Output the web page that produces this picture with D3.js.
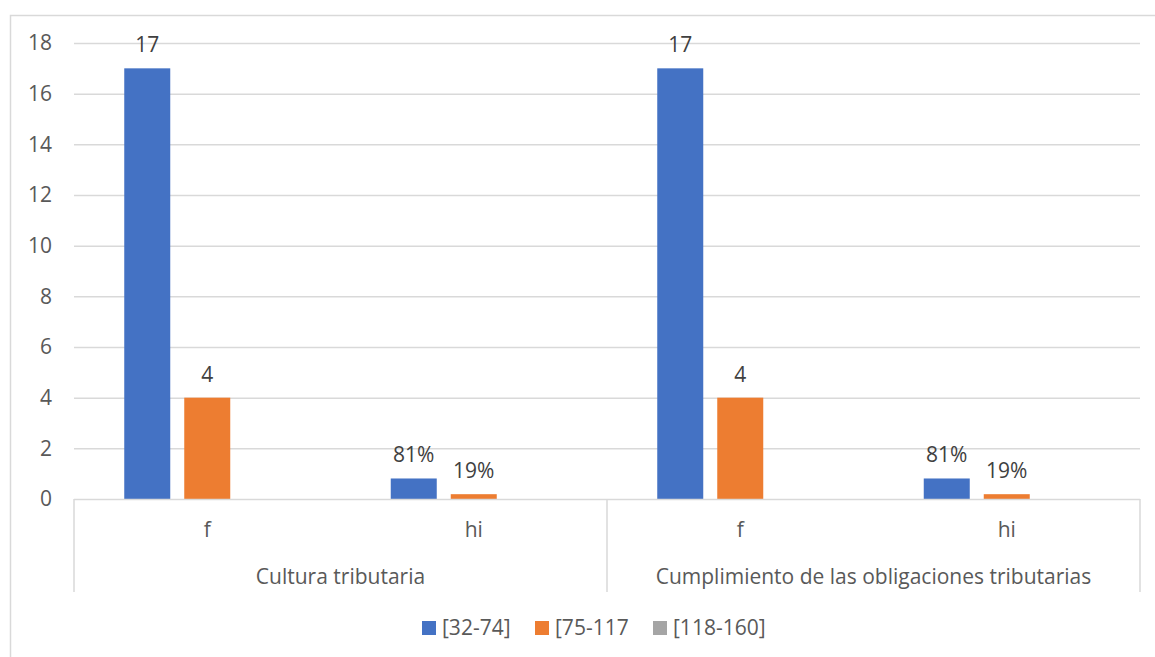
<!DOCTYPE html>
<html>
<head>
<meta charset="utf-8">
<script src="https://cdn.jsdelivr.net/npm/d3@7"></script>
<style>
  html, body { margin: 0; padding: 0; background: #fff; }
  svg { display: block; font-family: "Open Sans", sans-serif; }
</style>
</head>
<body>
<svg id="chart" width="1155" height="657"></svg>
<script>
// Groups on the outer axis and measures on the inner axis
const groups = ["Cultura tributaria", "Cumplimiento de las obligaciones tributarias"];
const measures = ["f", "hi"];
const seriesNames = ["[32-74]", "[75-117", "[118-160]"];
const seriesColors = ["#4472C4", "#ED7D31", "#A5A5A5"];

// Values per series, in order: group1 f, group1 hi, group2 f, group2 hi
const range32to74 = [17, 0.81, 17, 0.81];
const range75to117 = [4, 0.19, 4, 0.19];
const range118to160 = [0, 0, 0, 0];
const yTicks = [0, 2, 4, 6, 8, 10, 12, 14, 16, 18];

const seriesValues = [range32to74, range75to117, range118to160];

const svg = d3.select("#chart");
const textColor = "#595959";
const gridColor = "#D9D9D9";
const fontSize = "21px";

// Outer chart frame
svg.append("rect")
  .attr("x", 10.5).attr("y", 15.5)
  .attr("width", 1160).attr("height", 660)
  .attr("fill", "none").attr("stroke", "#D9D9D9").attr("stroke-width", 1.5);

const plot = { left: 74, right: 1140, top: 43, bottom: 499 };

const y = d3.scaleLinear().domain([0, 18]).range([plot.bottom, plot.top]);

// One slot for each (group, measure) pair
const slots = [];
groups.forEach(g => measures.forEach(m => slots.push(g + "|" + m)));
const x0 = d3.scaleBand().domain(slots).range([plot.left, plot.right]).padding(0);
const x1 = d3.scaleBand().domain(seriesNames)
  .range([50.25, 216.25]).paddingInner(14 / 60).paddingOuter(0);

// Horizontal gridlines
svg.append("g").selectAll("line")
  .data(yTicks.filter(t => t > 0))
  .join("line")
  .attr("x1", plot.left).attr("x2", plot.right)
  .attr("y1", d => y(d) + 0.5).attr("y2", d => y(d) + 0.5)
  .attr("stroke", gridColor).attr("stroke-width", 1.5);

// Y axis labels
const yAxis = d3.axisLeft(y).tickValues(yTicks).tickSize(0).tickPadding(22);
const yg = svg.append("g").attr("transform", `translate(${plot.left},0)`).call(yAxis);
yg.select(".domain").remove();
yg.selectAll("text").attr("fill", textColor).style("font-size", fontSize)
  .style("font-family", "'Open Sans', sans-serif");

// Bars
const barData = [];
seriesValues.forEach((vals, si) => {
  vals.forEach((v, i) => barData.push({ series: seriesNames[si], color: seriesColors[si], slot: slots[i], value: v }));
});

svg.append("g").selectAll("rect")
  .data(barData.filter(d => d.value > 0))
  .join("rect")
  .attr("x", d => x0(d.slot) + x1(d.series))
  .attr("width", x1.bandwidth())
  .attr("y", d => y(d.value))
  .attr("height", d => y(0) - y(d.value))
  .attr("fill", d => d.color);

// Value labels: counts for f, percentages for hi
svg.append("g").selectAll("text")
  .data(barData.filter(d => d.value > 0))
  .join("text")
  .attr("x", d => x0(d.slot) + x1(d.series) + x1.bandwidth() / 2)
  .attr("y", d => y(d.value) - 16)
  .attr("text-anchor", "middle")
  .attr("fill", "#404040")
  .style("font-size", fontSize)
  .text(d => d.slot.endsWith("|hi") ? d3.format(".0%")(d.value) : d3.format("d")(d.value));

// Baseline
svg.append("line")
  .attr("x1", plot.left).attr("x2", plot.right)
  .attr("y1", y(0) + 0.5).attr("y2", y(0) + 0.5)
  .attr("stroke", gridColor).attr("stroke-width", 1.5);

// Multi-level category axis dividers
const axisBottomY = 592;
const dividerXs = [plot.left, plot.left + (plot.right - plot.left) / 2, plot.right];
svg.append("g").selectAll("line")
  .data(dividerXs)
  .join("line")
  .attr("x1", d => d).attr("x2", d => d)
  .attr("y1", y(0)).attr("y2", axisBottomY)
  .attr("stroke", gridColor).attr("stroke-width", 1.5);

// Inner category labels
svg.append("g").selectAll("text")
  .data(slots)
  .join("text")
  .attr("x", d => x0(d) + x0.bandwidth() / 2)
  .attr("y", 537)
  .attr("text-anchor", "middle")
  .attr("fill", textColor)
  .style("font-size", fontSize)
  .text(d => d.split("|")[1]);

// Outer group labels
svg.append("g").selectAll("text")
  .data(groups)
  .join("text")
  .attr("x", g => (x0(g + "|" + measures[0]) + x0(g + "|" + measures[measures.length - 1]) + x0.bandwidth()) / 2)
  .attr("y", 584)
  .attr("text-anchor", "middle")
  .attr("fill", textColor)
  .style("font-size", fontSize)
  .text(d => d);

// Legend
const legendX = [422, 535, 653];
const legend = svg.append("g");
seriesNames.forEach((name, i) => {
  legend.append("rect")
    .attr("x", legendX[i]).attr("y", 621)
    .attr("width", 14).attr("height", 14)
    .attr("fill", seriesColors[i]);
  legend.append("text")
    .attr("x", legendX[i] + 20).attr("y", 635)
    .attr("fill", textColor)
    .style("font-size", fontSize)
    .text(name);
});
</script>
</body>
</html>
